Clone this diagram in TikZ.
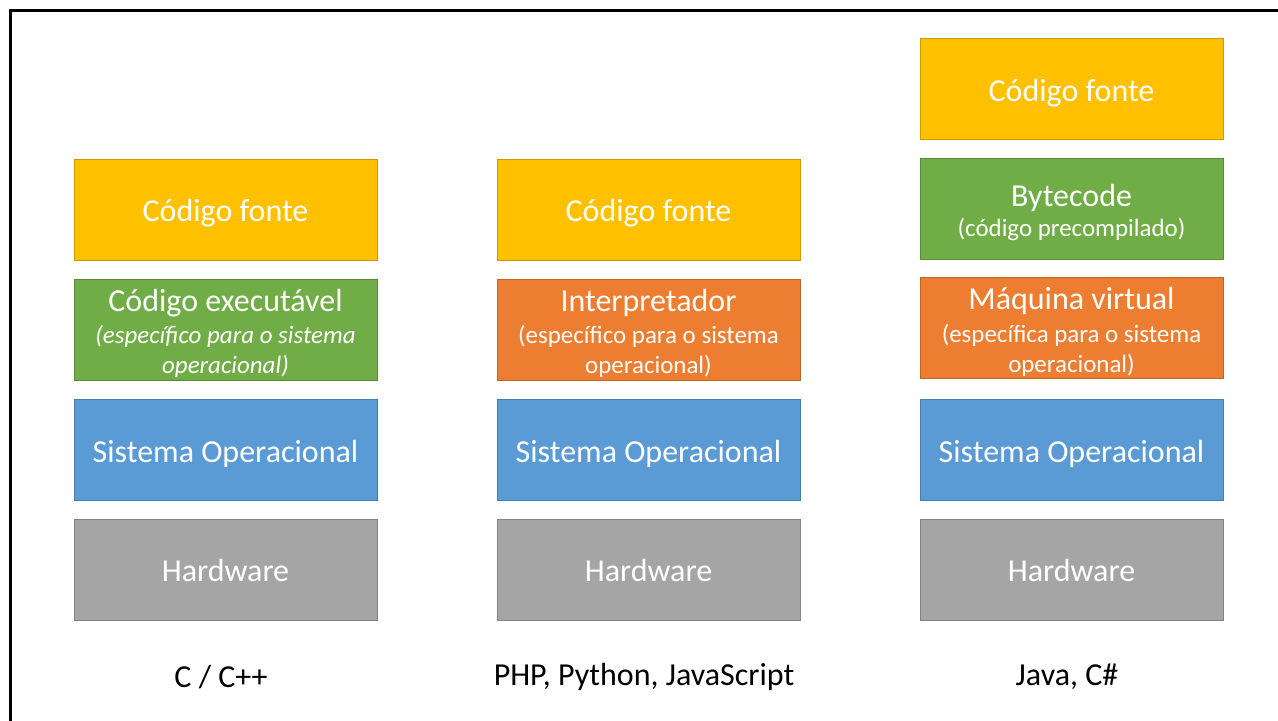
\documentclass[tikz,border=0pt]{standalone}
\usepackage{fontspec}
\setmainfont{Carlito}
\definecolor{cgold}{HTML}{FFC000}
\definecolor{cgreen}{HTML}{70AD47}
\definecolor{corange}{HTML}{ED7D31}
\definecolor{cblue}{HTML}{5B9BD5}
\definecolor{cgray}{HTML}{A5A5A5}
\newcommand{\bigtxt}{\fontsize{24}{28}\selectfont}
\newcommand{\smalltxt}{\fontsize{18.7}{22.5}\selectfont}
\tikzset{
  layer/.style={rectangle, draw=#1!80!black, fill=#1, line width=0.6pt,
    minimum width=227.25pt, minimum height=75.75pt, inner sep=0pt},
  txt/.style={text=white, align=center, font=\bigtxt, inner sep=0pt, yshift=-3pt},
  hwtxt/.style={txt, yshift=2.25pt},
  langlabel/.style={text=black, font=\fontsize{24}{28}\selectfont, inner sep=0pt}
}
\begin{document}
\begin{tikzpicture}[x=0.75pt,y=-0.75pt]
\useasboundingbox (0,0) rectangle (1278,721);
\fill[white] (0,0) rectangle (1278,721);
\draw[line width=2.25pt] (10.5,721) -- (10.5,10.5) -- (1278,10.5);
% column 1
\node[layer=cgold, label={[txt]center:Código fonte}] (c1src) at (225.5,209.5) {};
\node[layer=cgreen, label={[txt]center:{Código executável\\[-3.5pt]{\smalltxt\itshape (específico para o sistema}\\[-5.5pt]{\smalltxt\itshape operacional)}}}] (c1exe) at (225.5,329.5) {};
\node[layer=cblue, label={[txt]center:Sistema Operacional}] (c1os) at (225.5,449.5) {};
\node[layer=cgray, label={[hwtxt]center:Hardware}] (c1hw) at (225.5,569.5) {};
\node[langlabel] (c1lab) at (221,677) {C / C++};
% column 2
\node[layer=cgold, label={[txt]center:Código fonte}] (c2src) at (648.5,209.5) {};
\node[layer=corange, label={[txt]center:{Interpretador\\[-3.5pt]{\smalltxt (específico para o sistema}\\[-5.5pt]{\smalltxt operacional)}}}] (c2int) at (648.5,329.5) {};
\node[layer=cblue, label={[txt]center:Sistema Operacional}] (c2os) at (648.5,449.5) {};
\node[layer=cgray, label={[hwtxt]center:Hardware}] (c2hw) at (648.5,569.5) {};
\node[langlabel] (c2lab) at (644,677) {PHP, Python, JavaScript};
% column 3
\node[layer=cgold, label={[txt]center:Código fonte}] (c3src) at (1071.5,89) {};
\node[layer=cgreen, label={[txt]center:{Bytecode\\[-5pt]{\smalltxt (código precompilado)}}}] (c3byte) at (1071.5,208.5) {};
\node[layer=corange, label={[txt]center:{Máquina virtual\\[-3.5pt]{\smalltxt (específica para o sistema}\\[-5.5pt]{\smalltxt operacional)}}}] (c3vm) at (1071.5,328) {};
\node[layer=cblue, label={[txt]center:Sistema Operacional}] (c3os) at (1071.5,450) {};
\node[layer=cgray, label={[hwtxt]center:Hardware}] (c3hw) at (1071.5,569.5) {};
\node[langlabel] (c3lab) at (1067,677) {Java, C\#};
\end{tikzpicture}
\end{document}
